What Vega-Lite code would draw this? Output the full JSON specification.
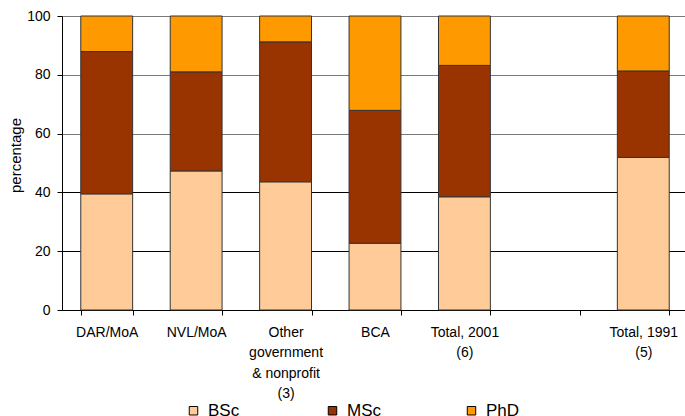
{
  "$schema": "https://vega.github.io/schema/vega-lite/v6.json",
  "width": 626,
  "height": 294,
  "autosize": {"type": "none"},
  "padding": {"left": 62, "top": 16, "right": 0, "bottom": 106},
  "background": "white",
  "config": {
    "font": "Liberation Sans",
    "view": {"stroke": null}
  },
  "data": {
    "values": [
      {"group": "DAR/MoA", "degree": "BSc", "rank": 1, "pct": 39.5},
      {"group": "DAR/MoA", "degree": "MSc", "rank": 2, "pct": 48.4},
      {"group": "DAR/MoA", "degree": "PhD", "rank": 3, "pct": 12.1},
      {"group": "NVL/MoA", "degree": "BSc", "rank": 1, "pct": 47.3},
      {"group": "NVL/MoA", "degree": "MSc", "rank": 2, "pct": 33.7},
      {"group": "NVL/MoA", "degree": "PhD", "rank": 3, "pct": 19.0},
      {"group": "Other|government|& nonprofit|(3)", "degree": "BSc", "rank": 1, "pct": 43.6},
      {"group": "Other|government|& nonprofit|(3)", "degree": "MSc", "rank": 2, "pct": 47.6},
      {"group": "Other|government|& nonprofit|(3)", "degree": "PhD", "rank": 3, "pct": 8.8},
      {"group": "BCA", "degree": "BSc", "rank": 1, "pct": 22.7},
      {"group": "BCA", "degree": "MSc", "rank": 2, "pct": 45.2},
      {"group": "BCA", "degree": "PhD", "rank": 3, "pct": 32.1},
      {"group": "Total, 2001|(6)", "degree": "BSc", "rank": 1, "pct": 38.5},
      {"group": "Total, 2001|(6)", "degree": "MSc", "rank": 2, "pct": 44.7},
      {"group": "Total, 2001|(6)", "degree": "PhD", "rank": 3, "pct": 16.8},
      {"group": "Total, 1991|(5)", "degree": "BSc", "rank": 1, "pct": 51.9},
      {"group": "Total, 1991|(5)", "degree": "MSc", "rank": 2, "pct": 29.4},
      {"group": "Total, 1991|(5)", "degree": "PhD", "rank": 3, "pct": 18.7}
    ]
  },
  "mark": {"type": "bar", "stroke": "#333333", "strokeWidth": 1},
  "encoding": {
    "x": {
      "field": "group",
      "type": "nominal",
      "sort": null,
      "scale": {
        "domain": ["DAR/MoA", "NVL/MoA", "Other|government|& nonprofit|(3)", "BCA", "Total, 2001|(6)", "gap", "Total, 1991|(5)"],
        "paddingInner": 0.42,
        "paddingOuter": 0.21
      },
      "axis": {
        "title": null,
        "labelAngle": 0,
        "labelExpr": "(!datum.value || datum.value == 'gap') ? '' : split(datum.value, '|')",
        "labelFontSize": 14,
        "labelColor": "#000000",
        "labelLineHeight": 20.5,
        "labelBaseline": "top",
        "labelPadding": 10,
        "labelLimit": 200,
        "tickBand": "extent",
        "tickSize": 5,
        "tickColor": "#000000",
        "domainColor": "#000000",
        "domainWidth": 1
      }
    },
    "y": {
      "field": "pct",
      "type": "quantitative",
      "stack": "zero",
      "scale": {"domain": [0, 100], "nice": false},
      "axis": {
        "title": "percentage",
        "titleFontSize": 15,
        "titleFontWeight": "normal",
        "titleColor": "#000000",
        "titleX": -47,
        "titleY": 139,
        "titleAngle": -90,
        "titleAlign": "center",
        "titleBaseline": "middle",
        "values": [0, 20, 40, 60, 80, 100],
        "labelFontSize": 14,
        "labelColor": "#000000",
        "labelPadding": 7,
        "tickSize": 5,
        "tickColor": "#000000",
        "domainColor": "#000000",
        "grid": true,
        "gridColor": {"condition": {"test": "datum.value <= 40", "value": "#000000"}, "value": "#7a7a7a"},
        "gridWidth": 1
      }
    },
    "color": {
      "field": "degree",
      "type": "nominal",
      "scale": {"domain": ["BSc", "MSc", "PhD"], "range": ["#FFCC99", "#993300", "#FF9900"]},
      "legend": {
        "title": null,
        "orient": "none",
        "legendX": 123,
        "legendY": 386,
        "direction": "horizontal",
        "columns": 3,
        "gridAlign": "all",
        "columnPadding": 82,
        "padding": 0,
        "symbolType": "square",
        "symbolSize": 72,
        "symbolStrokeColor": "#000000",
        "symbolStrokeWidth": 1,
        "labelFontSize": 17,
        "labelColor": "#000000",
        "labelOffset": 6
      }
    },
    "order": {"field": "rank", "type": "quantitative"}
  }
}
